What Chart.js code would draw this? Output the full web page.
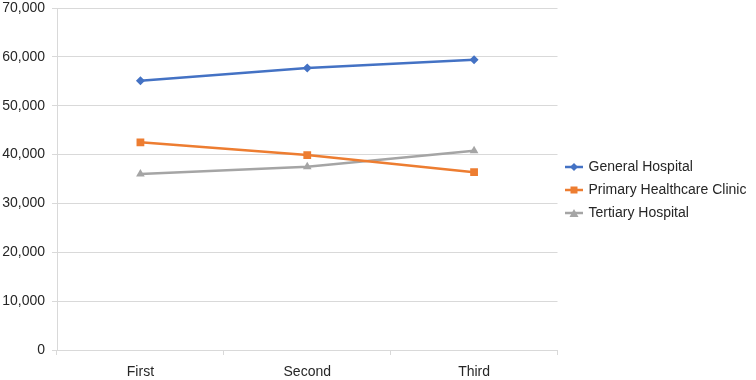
<!DOCTYPE html>
<html>
<head>
<meta charset="utf-8">
<title>Hospital chart</title>
<script src="https://cdn.jsdelivr.net/npm/chart.js@4"></script>
<style>
    html, body { margin: 0; padding: 0; background: #fff; }
    #wrap { width: 756px; height: 380px; position: relative; }
</style>
</head>
<body>
<div id="wrap"><canvas id="mainChart"></canvas></div>
<script>
// Data
const categories = ['First', 'Second', 'Third'];
const generalHospital = [55100, 57700, 59400];
const primaryClinic = [42500, 39900, 36400];
const tertiaryHospital = [36000, 37500, 40800];

const yMin = 0;
const yMax = 70000;
const yStep = 10000;

const BLUE = '#4472C4';
const ORANGE = '#ED7D31';
const GREY = '#A5A5A5';
const TEXT = '#262626';
const FONT = { family: '"Liberation Sans", Arial, sans-serif', size: 14 };

Chart.defaults.font = FONT;
Chart.defaults.color = TEXT;

// small line + marker images for the legend
function legendIcon(color, style) {
    const c = document.createElement('canvas');
    c.width = 20;
    c.height = 12;
    const g = c.getContext('2d');
    g.strokeStyle = color;
    g.lineWidth = 2.5;
    g.beginPath();
    g.moveTo(1, 6);
    g.lineTo(19, 6);
    g.stroke();
    g.fillStyle = color;
    g.beginPath();
    if (style === 'rectRot') {
        g.moveTo(10, 2); g.lineTo(14, 6); g.lineTo(10, 10); g.lineTo(6, 6);
    } else if (style === 'rect') {
        g.rect(6.5, 2.5, 7, 7);
    } else {
        g.moveTo(10, 2); g.lineTo(14.5, 10); g.lineTo(5.5, 10);
    }
    g.closePath();
    g.fill();
    return c;
}

function series(label, data, color, style, radius) {
    return {
        label,
        data,
        borderColor: color,
        backgroundColor: color,
        borderWidth: 2.5,
        pointStyle: style,
        pointRadius: radius,
        pointHoverRadius: radius,
        pointBorderWidth: 0,
        tension: 0,
        fill: false,
        legendIcon: legendIcon(color, style)
    };
}

const ctx = document.getElementById('mainChart').getContext('2d');
new Chart(ctx, {
    type: 'line',
    data: {
        labels: categories,
        datasets: [
            series('General Hospital', generalHospital, BLUE, 'rectRot', 4.5),
            series('Primary Healthcare Clinic', primaryClinic, ORANGE, 'rect', 5.5),
            series('Tertiary Hospital', tertiaryHospital, GREY, 'triangle', 5)
        ]
    },
    options: {
        responsive: true,
        maintainAspectRatio: false,
        animation: false,
        // negative left widens the room Chart.js allows the right legend
        layout: { padding: { top: 0, left: -8, right: 10, bottom: 0 } },
        plugins: {
            tooltip: { enabled: false },
            legend: {
                position: 'right',
                labels: {
                    usePointStyle: true,
                    pointStyleWidth: 15,
                    padding: 9,
                    color: TEXT,
                    font: FONT,
                    generateLabels(chart) {
                        const items = Chart.defaults.plugins.legend.labels.generateLabels(chart);
                        items.forEach(it => {
                            it.pointStyle = chart.data.datasets[it.datasetIndex].legendIcon;
                        });
                        return items;
                    }
                }
            }
        },
        scales: {
            x: {
                offset: true,
                grid: {
                    offset: true,
                    drawOnChartArea: false,
                    drawTicks: true,
                    tickLength: 5,
                    color: '#d9d9d9'
                },
                border: { color: '#d9d9d9' },
                ticks: { padding: 9, color: TEXT, font: FONT },
                afterFit(scale) {
                    scale.height = 30;
                }
            },
            y: {
                min: yMin,
                max: yMax,
                grid: { color: '#d9d9d9', tickLength: 5 },
                border: { color: '#d9d9d9' },
                ticks: {
                    stepSize: yStep,
                    padding: 7,
                    color: TEXT,
                    font: FONT,
                    callback: v => v.toLocaleString('en-US')
                },
                // keep the axis where the original has it
                afterFit(scale) {
                    scale.width = 65;
                    scale.paddingTop = 8;
                    scale.paddingBottom = 0;
                }
            }
        }
    }
});
</script>
</body>
</html>
